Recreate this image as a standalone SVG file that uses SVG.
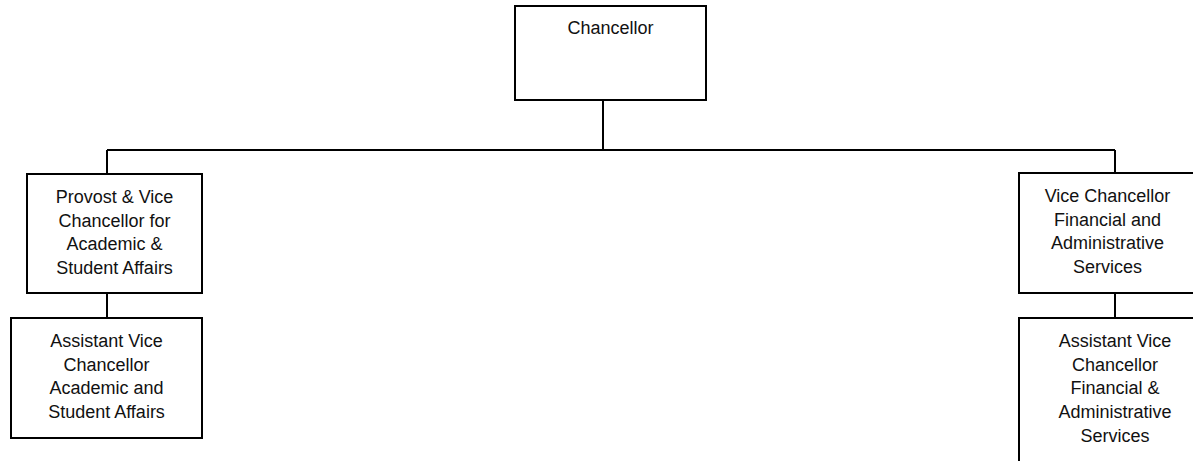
<svg xmlns="http://www.w3.org/2000/svg" width="1193" height="461" viewBox="0 0 1193 461">
<style>
.box{fill:#fff;stroke:#000;stroke-width:2}
.ln{stroke:#000;stroke-width:2;fill:none}
text{font-family:"Liberation Sans",Arial,sans-serif;font-size:18px;fill:#111;text-anchor:middle}
</style>
<rect width="1193" height="461" fill="#fff"/>
<g id="connectors">
<path class="ln" d="M603,100 V150 M107,150 H1115 M107,150 V174 M1115,150 V173 M107,293 V318 M1115,293 V318"/>
</g>
<g id="chancellor">
<rect class="box" x="515" y="6" width="191" height="94"/>
<text x="610.5" y="34">Chancellor</text>
</g>
<g id="provost">
<rect class="box" x="27" y="174" width="175" height="119"/>
<text x="114.5" y="203">Provost &amp; Vice</text>
<text x="114.5" y="226.7">Chancellor for</text>
<text x="114.5" y="250.4">Academic &amp;</text>
<text x="114.5" y="274">Student Affairs</text>
</g>
<g id="avc-academic">
<rect class="box" x="11" y="318" width="191" height="120"/>
<text x="106.5" y="347">Assistant Vice</text>
<text x="106.5" y="370.7">Chancellor</text>
<text x="106.5" y="394.4">Academic and</text>
<text x="106.5" y="418">Student Affairs</text>
</g>
<g id="vc-financial">
<rect class="box" x="1019" y="173" width="177" height="120"/>
<text x="1107.5" y="202">Vice Chancellor</text>
<text x="1107.5" y="225.7">Financial and</text>
<text x="1107.5" y="249.4">Administrative</text>
<text x="1107.5" y="273">Services</text>
</g>
<g id="avc-financial">
<rect class="box" x="1019" y="318" width="192" height="152"/>
<text x="1115" y="347">Assistant Vice</text>
<text x="1115" y="370.7">Chancellor</text>
<text x="1115" y="394.4">Financial &amp;</text>
<text x="1115" y="418">Administrative</text>
<text x="1115" y="441.8">Services</text>
</g>
</svg>
